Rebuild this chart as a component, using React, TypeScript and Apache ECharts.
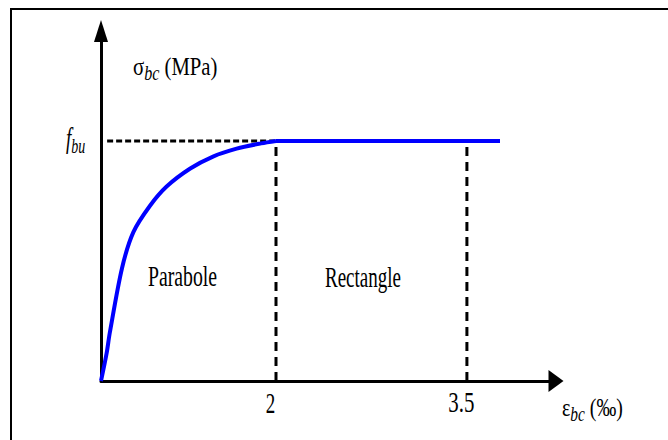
import React, { useEffect, useRef } from "react";
import * as echarts from "echarts";

// Parabola branch (strain in ‰, stress normalised to f_bu)
const parabolaStrain = [0, 0.065, 0.1, 0.24, 0.37, 0.56, 0.75, 1.02, 1.28, 1.55, 1.83, 2];
const parabolaStress = [0, 0.117, 0.2, 0.47, 0.62, 0.73, 0.81, 0.885, 0.935, 0.968, 0.99, 1];
// Rectangle (plateau) branch
const plateauStrain = [2, 3.76];
const fbu = 1;
// Axis / ticks
const strainTicks = [2, 3.5];
const strainTickLabels = ["2", "3.5"];
const strainSplit = 2;
const strainMax = 4.2;
const stressMax = 1.458;
const fbuDashStart = 0.07;

const FONT = "Liberation Serif";

function txt(text: string, x: number, y: number, o: any = {}) {
  const align = o.align ?? "left";
  return {
    type: "text",
    x,
    y,
    scaleX: o.sx ?? 1,
    scaleY: o.sy ?? 1.6,
    z: 100,
    style: {
      text,
      fontFamily: FONT,
      fontSize: o.fs ?? 19,
      fill: "#000",
      align,
      verticalAlign: "middle",
      textAlign: align,
      textVerticalAlign: "middle",
      rich: o.rich,
    },
  };
}

export default function App() {
  const ref = useRef<HTMLDivElement>(null);
  useEffect(() => {
    const chart = echarts.init(ref.current!, null, { renderer: "svg" });
    const black = { color: "#000", width: 3 };
    const hidden = {
      axisTick: { show: false },
      axisLabel: { show: false },
      splitLine: { show: false },
    };
    chart.setOption({
      animation: false,
      backgroundColor: "#fff",
      grid: [
        { left: 101, top: 31, width: 175, height: 350 },
        { left: 276, top: 31, width: 280, height: 350 },
      ],
      xAxis: [
        {
          type: "value",
          gridIndex: 0,
          min: 0,
          max: strainSplit,
          axisLine: { show: true, onZero: false, lineStyle: black },
          ...hidden,
        },
        {
          type: "value",
          gridIndex: 1,
          min: strainSplit,
          max: strainMax,
          axisLine: {
            show: true,
            onZero: false,
            symbol: ["none", "triangle"],
            symbolSize: [22, 15],
            lineStyle: black,
          },
          ...hidden,
        },
      ],
      yAxis: [
        {
          type: "value",
          gridIndex: 0,
          min: 0,
          max: stressMax,
          axisLine: {
            show: true,
            onZero: false,
            symbol: ["none", "triangle"],
            symbolSize: [14, 22],
            lineStyle: black,
          },
          ...hidden,
        },
        { type: "value", gridIndex: 1, min: 0, max: stressMax, show: false },
      ],
      series: [
        {
          type: "line",
          xAxisIndex: 0,
          yAxisIndex: 0,
          data: [
            [fbuDashStart, fbu],
            [strainSplit, fbu],
          ],
          showSymbol: false,
          clip: false,
          lineStyle: { color: "#000", width: 3, type: [6, 3] },
          z: 2,
        },
        ...strainTicks.map((t) => ({
          type: "line",
          xAxisIndex: 1,
          yAxisIndex: 1,
          data: [
            [t, 0],
            [t, fbu],
          ],
          showSymbol: false,
          clip: false,
          lineStyle: { color: "#000", width: 3, type: [9, 6] },
          z: 2,
        })),
        {
          type: "line",
          xAxisIndex: 0,
          yAxisIndex: 0,
          data: parabolaStrain.map((e, i) => [e, parabolaStress[i]]),
          smooth: 0.3,
          showSymbol: false,
          clip: false,
          lineStyle: { color: "#0000ff", width: 4 },
          z: 5,
        },
        {
          type: "line",
          xAxisIndex: 1,
          yAxisIndex: 1,
          data: plateauStrain.map((e) => [e, fbu]),
          showSymbol: false,
          clip: false,
          lineStyle: { color: "#0000ff", width: 4, cap: "butt" },
          z: 5,
        },
      ],
    });

    const axisY = chart.convertToPixel({ gridIndex: 0 }, [0, 0])[1];
    const fbuY = chart.convertToPixel({ gridIndex: 0 }, [0, fbu])[1];
    const tickTexts = strainTicks.map((t, i) => {
      const px = chart.convertToPixel({ gridIndex: 1 }, [t, 0])[0];
      return txt(strainTickLabels[i], px - 5.5, axisY + 21.5, { align: "center", sx: i === 1 ? 1.1 : 1 });
    });

    const subStyle = { fontFamily: FONT, fontSize: 14, fontStyle: "italic", lineHeight: 14, verticalAlign: "bottom", fill: "#000" };

    chart.setOption({
      graphic: [
        {
          type: "rect",
          shape: { x: 11, y: 9, width: 800, height: 600 },
          style: { fill: "none", stroke: "#000", lineWidth: 2 },
          z: 50,
        },
        txt("{m|σ}{s|bc}{m| (MPa)}", 133, 66, {
          fs: 18,
          sx: 1.15,
          sy: 1.45,
          rich: {
            m: { fontFamily: FONT, fontSize: 18, lineHeight: 24, fill: "#000" },
            s: subStyle,
          },
        }),
        txt("{f|f}{s|bu}", 66, fbuY - 3, {
          fs: 18,
          sy: 1.5,
          rich: {
            f: { fontFamily: FONT, fontSize: 19, fontStyle: "italic", lineHeight: 24, fill: "#000" },
            s: subStyle,
          },
        }),
        txt("Parabole", 148, 276, { sx: 1.04 }),
        txt("Rectangle", 325, 276, {}),
        txt("{m|ε}{s|bc}{m| (‰)}", 562, 407, {
          fs: 18,
          sx: 1.1,
          sy: 1.45,
          rich: {
            m: { fontFamily: FONT, fontSize: 18, lineHeight: 24, fill: "#000" },
            s: subStyle,
          },
        }),
        ...tickTexts,
      ],
    });

    return () => chart.dispose();
  }, []);

  return (
    <div
      ref={ref}
      style={{ position: "absolute", left: 0, top: 0, width: 668, height: 440, background: "#fff" }}
    />
  );
}
